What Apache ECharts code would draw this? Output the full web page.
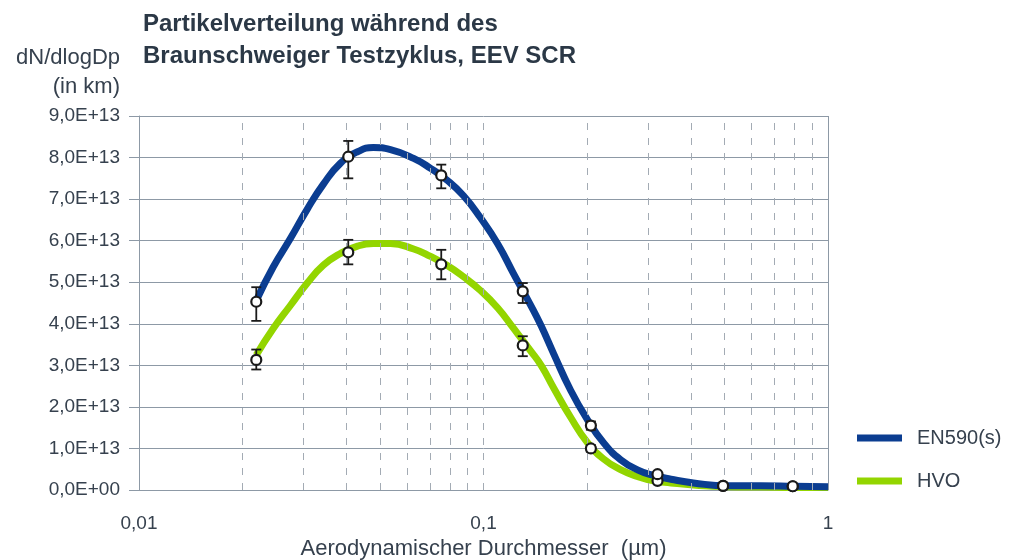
<!DOCTYPE html>
<html>
<head>
<meta charset="utf-8">
<script src="https://cdn.jsdelivr.net/npm/echarts@6/dist/echarts.min.js"></script>
<style>
html,body{margin:0;padding:0;background:#fff;}
#chart{width:1009px;height:560px;}
</style>
</head>
<body>
<div id="chart"></div>
<script>
// ---- data (y values in units of 1E+13) ----
const titleLines = ['Partikelverteilung während des', 'Braunschweiger Testzyklus, EEV SCR'];
const yNameLines = ['dN/dlogDp', '(in km)'];
const xName = 'Aerodynamischer Durchmesser  (µm)';
const seriesNames = ['EN590(s)', 'HVO'];

const yTickLabels = ['0,0E+00','1,0E+13','2,0E+13','3,0E+13','4,0E+13','5,0E+13','6,0E+13','7,0E+13','8,0E+13','9,0E+13'];
const xTickValues = [0.01, 0.1, 1];
const xTickLabels = ['0,01', '0,1', '1'];
const xMinorGrid = [0.02,0.03,0.04,0.05,0.06,0.07,0.08,0.09,0.1,0.2,0.3,0.4,0.5,0.6,0.7,0.8,0.9];

// fitted curves
const curveX = [0.0219,0.0245,0.0275,0.0308,0.0343,0.0384,0.0431,0.0479,0.0537,0.0627,0.0702,0.0785,0.0875,0.098,0.110,0.122,0.137,0.147,0.160,0.179,0.200,0.223,0.250,0.281,0.312,0.350,0.407,0.512,0.638,0.797,1.0];
const blueCurve = [4.56,5.36,6.05,6.76,7.36,7.86,8.14,8.24,8.19,7.98,7.74,7.45,7.08,6.55,5.92,5.22,4.45,3.95,3.27,2.40,1.70,1.14,0.73,0.48,0.35,0.26,0.17,0.10,0.10,0.09,0.08];
const greenCurve = [3.25,3.88,4.44,4.98,5.41,5.69,5.87,5.93,5.93,5.80,5.62,5.40,5.13,4.80,4.38,3.90,3.35,3.00,2.45,1.75,1.15,0.75,0.49,0.32,0.22,0.17,0.12,0.08,0.07,0.06,0.06];

// measured points with error bars
const markerX   = [0.0219,0.0405,0.0754,0.130,0.205,0.32,0.496,0.79];
const blueMean  = [4.53,8.02,7.57,4.78,1.55,0.38,0.10,0.09];
const blueLow   = [4.07,7.50,7.26,4.50,1.45,null,null,null];
const blueHigh  = [4.88,8.40,7.83,4.98,1.65,null,null,null];
const greenMean = [3.13,5.72,5.43,3.48,1.00,0.22,0.10,0.09];
const greenLow  = [2.90,5.43,5.07,3.22,0.92,null,null,null];
const greenHigh = [3.38,6.02,5.78,3.70,1.08,null,null,null];

// ---- styling ----
const BLUE = '#0b3d91';
const GREEN = '#93d500';
const GRID = '#8d99a6';
const DASH = '#a3abb4';
const TEXT = '#36414e';
const FONT = '"Liberation Sans", Arial, sans-serif';

const zip = (xs, ys) => xs.map((x, i) => [x, ys[i]]);
const errData = (low, high) => markerX.map((x, i) => [x, low[i], high[i]]).filter(d => d[1] !== null);

function errRender(params, api) {
  const x = api.value(0);
  const lo = api.coord([x, api.value(1)]);
  const hi = api.coord([x, api.value(2)]);
  const cw = 5;
  const style = { stroke: '#1a1a1a', lineWidth: 1.8, fill: null };
  return {
    type: 'group',
    children: [
      { type: 'line', shape: { x1: lo[0], y1: lo[1], x2: hi[0], y2: hi[1] }, style },
      { type: 'line', shape: { x1: lo[0] - cw, y1: lo[1], x2: lo[0] + cw, y2: lo[1] }, style },
      { type: 'line', shape: { x1: hi[0] - cw, y1: hi[1], x2: hi[0] + cw, y2: hi[1] }, style }
    ]
  };
}

const chart = echarts.init(document.getElementById('chart'), null, { renderer: 'canvas' });
const option = {
  animation: false,
  backgroundColor: '#ffffff',
  textStyle: { fontFamily: FONT },
  grid: { left: 139, top: 116, width: 689, height: 374, containLabel: false, outerBoundsMode: 'none' },
  graphic: [
    { type: 'text', left: 143, top: 12, style: { text: titleLines[0], font: 'bold 24px ' + FONT, fill: '#2b3846' } },
    { type: 'text', left: 143, top: 44, style: { text: titleLines[1], font: 'bold 24px ' + FONT, fill: '#2b3846' } },
    { type: 'text', right: 889, top: 47, style: { text: yNameLines[0], font: '22px ' + FONT, fill: TEXT, textAlign: 'right' } },
    { type: 'text', right: 889, top: 76, style: { text: yNameLines[1], font: '22px ' + FONT, fill: TEXT, textAlign: 'right' } }
  ],
  legend: {
    data: seriesNames,
    orient: 'vertical',
    left: 857,
    top: 427,
    padding: 0,
    icon: 'rect',
    itemWidth: 45,
    itemHeight: 7,
    itemGap: 21,
    textStyle: { fontSize: 20, color: TEXT, fontFamily: FONT, lineHeight: 22, padding: [0, 0, 0, 10] }
  },
  xAxis: {
    type: 'log',
    logBase: 10,
    min: 0.01,
    max: 1,
    name: xName,
    nameLocation: 'middle',
    nameGap: 48,
    nameTextStyle: { fontSize: 22, color: TEXT, fontFamily: FONT },
    axisLine: { show: true, lineStyle: { color: GRID, width: 1 } },
    axisTick: { show: false },
    splitLine: { show: false },
    axisLabel: {
      fontSize: 19, color: TEXT, margin: 24, fontFamily: FONT,
      formatter: v => { const i = xTickValues.findIndex(t => Math.abs(t - v) / t < 1e-6); return i >= 0 ? xTickLabels[i] : ''; }
    }
  },
  yAxis: {
    type: 'value',
    min: 0,
    max: 9,
    interval: 1,
    axisLine: { show: true, lineStyle: { color: GRID, width: 1 } },
    axisTick: { show: true, length: 10, lineStyle: { color: GRID, width: 1 } },
    splitLine: { show: true, lineStyle: { color: GRID, width: 1 } },
    axisLabel: {
      fontSize: 19, color: TEXT, margin: 19, fontFamily: FONT,
      formatter: v => yTickLabels[Math.round(v)]
    }
  },
  series: [
    {
      name: '_grid',
      type: 'line',
      data: [],
      silent: true,
      markLine: {
        silent: true,
        symbol: 'none',
        label: { show: false },
        lineStyle: { color: DASH, type: [7, 8], width: 1 },
        data: xMinorGrid.map(v => ({ xAxis: v })).concat([{ xAxis: 1, lineStyle: { color: GRID, type: 'solid', width: 1 } }])
      }
    },
    {
      name: 'HVO',
      type: 'line',
      smooth: 0.5,
      showSymbol: false,
      color: GREEN,
      lineStyle: { color: GREEN, width: 7 },
      data: zip(curveX, greenCurve),
      z: 3
    },
    {
      name: 'EN590(s)',
      type: 'line',
      smooth: 0.5,
      showSymbol: false,
      color: BLUE,
      lineStyle: { color: BLUE, width: 7 },
      data: zip(curveX, blueCurve),
      z: 4
    },
    {
      name: 'err-green', type: 'custom', renderItem: errRender, data: errData(greenLow, greenHigh), z: 5, silent: true
    },
    {
      name: 'err-blue', type: 'custom', renderItem: errRender, data: errData(blueLow, blueHigh), z: 5, silent: true
    },
    {
      name: 'pts-green', type: 'scatter', symbol: 'circle', symbolSize: 10,
      itemStyle: { color: '#ffffff', borderColor: '#1a1a1a', borderWidth: 2.2, opacity: 1 },
      data: zip(markerX, greenMean), z: 6
    },
    {
      name: 'pts-blue', type: 'scatter', symbol: 'circle', symbolSize: 10,
      itemStyle: { color: '#ffffff', borderColor: '#1a1a1a', borderWidth: 2.2, opacity: 1 },
      data: zip(markerX, blueMean), z: 6
    }
  ]
};
chart.setOption(option);
</script>
</body>
</html>
